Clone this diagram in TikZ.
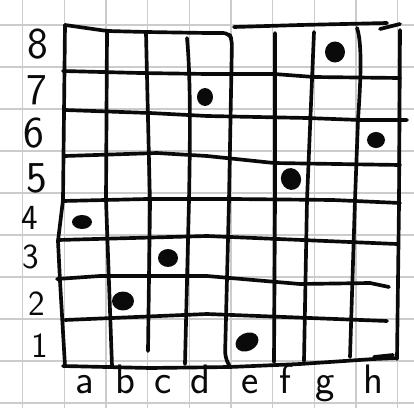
\documentclass[tikz,border=0pt]{standalone}
\usepackage{tikz}
\usetikzlibrary{shapes.geometric}
\definecolor{papergrey}{RGB}{204,204,204}
\definecolor{inkblack}{RGB}{10,10,10}
\tikzset{
  paper/.style={draw=papergrey, line width=0.8pt},
  boardline/.style={draw=inkblack, line width=2.5pt, line cap=round, line join=round},
  queen/.style={ellipse, fill=inkblack, inner sep=0pt},
  ranklabel/.style={font=\sffamily\fontsize{30}{30}\selectfont, text=inkblack, inner sep=0pt},
  smallrank/.style={ranklabel, font=\sffamily\fontsize{24}{24}\selectfont},
  filelabel/.style={font=\sffamily\fontsize{28}{28}\selectfont, text=inkblack, inner sep=0pt, anchor=base}
}

\begin{document}
\begin{tikzpicture}[x=0.6806pt, y=-0.6806pt]
  \useasboundingbox (0,0) rectangle (414,408);
  \fill[white] (0,0) rectangle (414,408);

  % graph paper
  \foreach \gx in {0,...,9} {
    \draw[paper] (22.7+41.67*\gx,0) -- (22.7+41.67*\gx,408);
  }
  \foreach \gy in {0,...,9} {
    \draw[paper] (0,25+42*\gy) -- (414,25+42*\gy);
  }

  % board, horizontal strokes
  \draw[boardline, rounded corners=4pt] (65,25) -- (107,31) -- (147,32) -- (207,33) -- (229,33) -- (232,40) -- (229,200) -- (225,357) -- (230,367);
  \draw[boardline] (234,27) -- (300,25) -- (387,23);
  \draw[boardline] (380,29) -- (400,24);
  \draw[boardline] (63,71) -- (140,73) -- (207,74) -- (274,74) -- (314,77) -- (400,78);
  \draw[boardline] (65,110) -- (150,113) -- (207,116) -- (307,118) -- (360,120) -- (407,120);
  \draw[boardline] (65,156) -- (157,153) -- (207,156) -- (274,163) -- (400,165);
  \draw[boardline] (63,201) -- (147,199) -- (233,199) -- (333,200) -- (400,203);
  \draw[boardline] (58,240) -- (207,236) -- (397,244);
  \draw[boardline] (57,279) -- (100,276) -- (207,276) -- (300,284) -- (370,283) -- (389,287);
  \draw[boardline] (65,320) -- (207,314) -- (387,321);
  \draw[boardline] (63,366) -- (150,368) -- (230,367) -- (300,364) -- (374,359) -- (397,358);
  \draw[boardline] (374,357) -- (393,355);

  % board, vertical strokes
  \draw[boardline] (65,25) -- (63,200) -- (58,241) -- (60,281) -- (65,366);
  \draw[boardline] (107,32) -- (106,200) -- (112,366);
  \draw[boardline] (146,33) -- (150,204) -- (148,351);
  \draw[boardline] (187,38) .. controls (191,80) and (190,150) .. (189,200) -- (185,364);
  \draw[boardline] (275,33) -- (275,200) -- (274,362);
  \draw[boardline] (314,32) -- (307,200) -- (304,361);
  \draw[boardline] (357,28) .. controls (363,45) and (360,90) .. (358,120) -- (355,200) -- (350,357);
  \draw[boardline] (400,30) -- (399,204) -- (397,359);

  % queens
  \node[queen, minimum width=13.6pt, minimum height=14.3pt] (g8) at (335,52) {};
  \node[queen, minimum width=10.9pt, minimum height=12.2pt] (d7) at (205,97) {};
  \node[queen, minimum width=12.2pt, minimum height=10.9pt] (h6) at (376,140) {};
  \node[queen, minimum width=13.6pt, minimum height=15pt, rotate=20] (f5) at (291,179) {};
  \node[queen, minimum width=13.6pt, minimum height=9.5pt] (a4) at (82,222) {};
  \node[queen, minimum width=13.6pt, minimum height=12.2pt] (c3) at (168,258) {};
  \node[queen, minimum width=15pt, minimum height=12.9pt] (b2) at (123,301) {};
  \node[queen, minimum width=16.3pt, minimum height=12.2pt, rotate=25] (e1) at (247,342) {};

  % ranks
  \node[ranklabel] (rank8) at (38,44) {8};
  \node[ranklabel] (rank7) at (37,90) {7};
  \node[ranklabel] (rank6) at (34,133) {6};
  \node[ranklabel] (rank5) at (37,178) {5};
  \node[smallrank] (rank4) at (30,218) {4};
  \node[smallrank] (rank3) at (31,257) {3};
  \node[smallrank] (rank2) at (37,304) {2};
  \node[smallrank] (rank1) at (40,346) {1};

  % files
  \node[filelabel] (filea) at (85,393) {a};
  \node[filelabel] (fileb) at (125,393) {b};
  \node[filelabel] (filec) at (163,393) {c};
  \node[filelabel] (filed) at (200,393) {d};
  \node[filelabel] (filee) at (250,393) {e};
  \node[filelabel] (filef) at (285,393) {f};
  \node[filelabel] (fileg) at (325,393) {g};
  \node[filelabel] (fileh) at (373,393) {h};
\end{tikzpicture}
\end{document}
